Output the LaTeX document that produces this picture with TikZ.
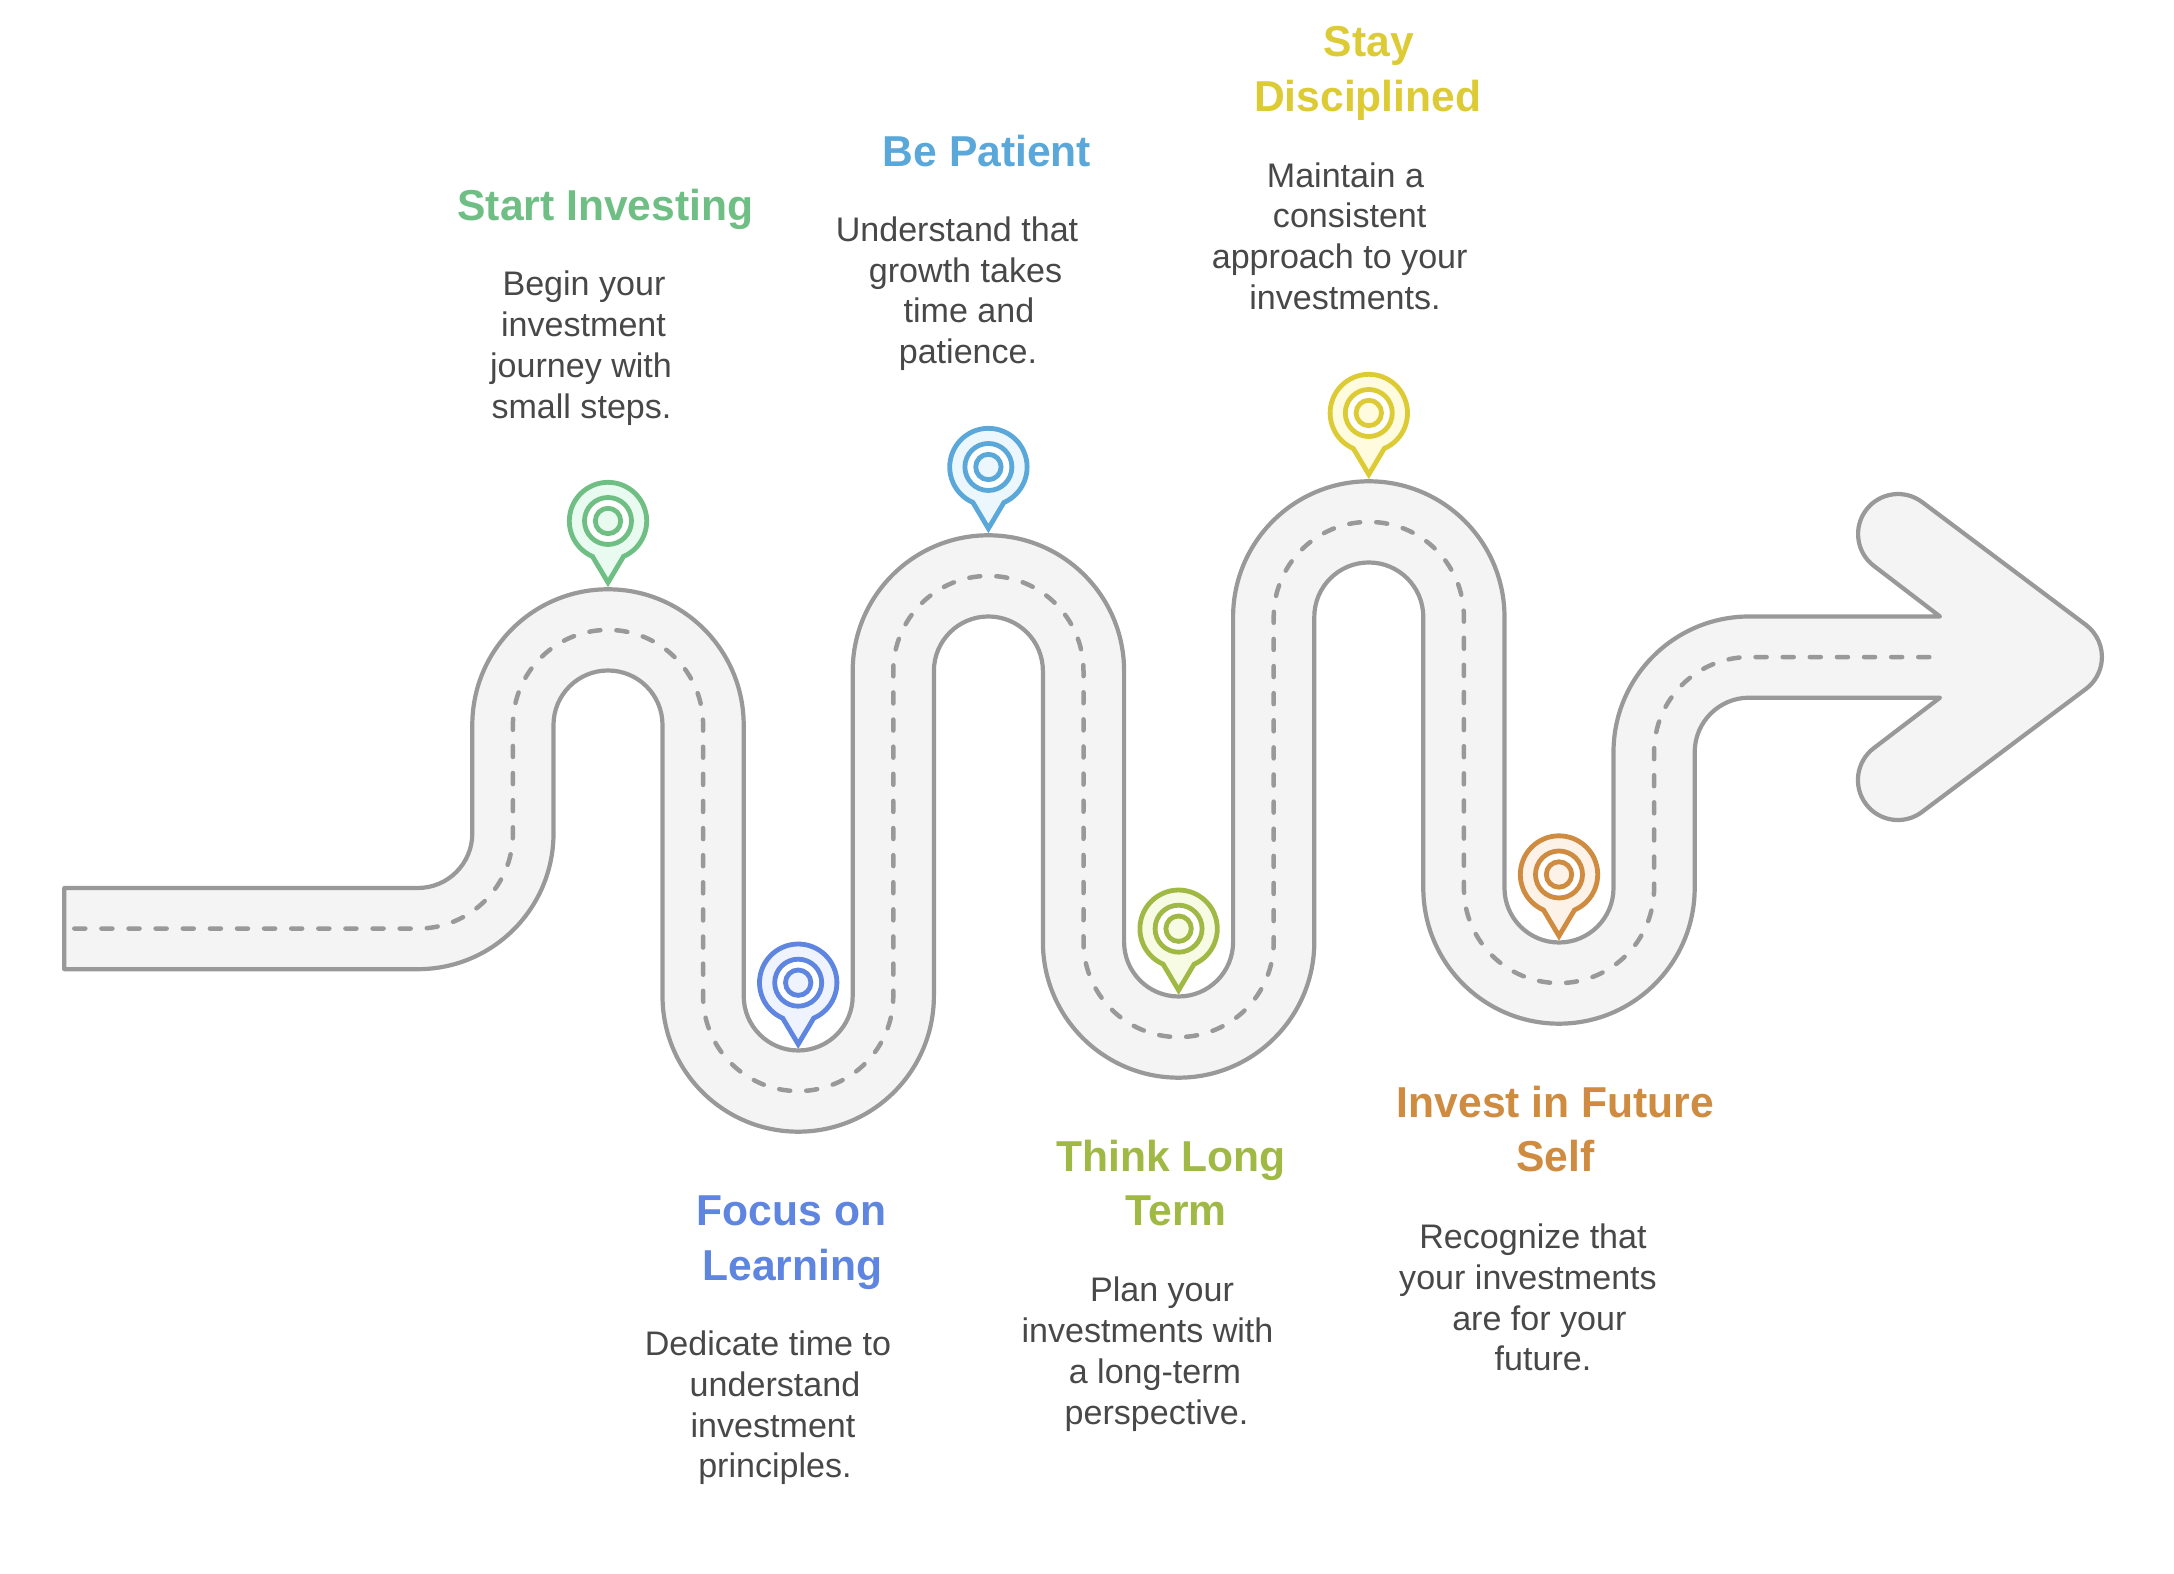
\documentclass[tikz,border=0pt]{standalone}
\usepackage{fontspec}
\setmainfont{Liberation Sans}
\newfontfamily\titlefont[FakeStretch=0.985]{Liberation Sans}
\definecolor{roadline}{HTML}{999999}
\definecolor{roadfill}{HTML}{F4F4F4}
\definecolor{bodygray}{HTML}{484848}
\definecolor{startcol}{HTML}{6FBF85}
\definecolor{startfill}{HTML}{E9FBF0}
\definecolor{focuscol}{HTML}{5E85E0}
\definecolor{focusfill}{HTML}{EEF3FE}
\definecolor{patientcol}{HTML}{5AA7D9}
\definecolor{patientfill}{HTML}{ECF6FD}
\definecolor{longcol}{HTML}{A0B944}
\definecolor{longfill}{HTML}{F8FBE4}
\definecolor{stayol}{HTML}{DDCB35}
\definecolor{stayfill}{HTML}{FEFBDF}
\definecolor{futurecol}{HTML}{CF8B3F}
\definecolor{futurefill}{HTML}{FCF2E7}
\tikzset{
  roadedge/.style={draw=roadline, fill=roadfill, line width=0.042cm, line join=round},
  roaddash/.style={draw=roadline, line width=0.045cm, line cap=round, dash pattern=on 0.11cm off 0.161cm},
  pinline/.style={line width=0.048cm},
  titletext/.style={anchor=base, font=\titlefont\bfseries\fontsize{12.3pt}{14pt}\selectfont},
  bodytext/.style={anchor=base, text=bodygray, font=\fontsize{9.69pt}{11pt}\selectfont}
}
\begin{document}
\begin{tikzpicture}[x=0.01cm, y=0.01cm, yscale=-1]
  \useasboundingbox (0,0) rectangle (2174,1574);
  \def\rin{54.5}
  \def\rout{135.7}
  \def\rmid{95.1}
  % road outline with arrow head
  \path[roadedge] (64.3,888) -- (417.8,888) arc[start angle=90, end angle=0, radius=\rin]
    -- (472.3,725) arc[start angle=180, end angle=360, radius=\rout]
    -- (743.7,996) arc[start angle=180, end angle=0, radius=\rin]
    -- (852.7,671) arc[start angle=180, end angle=360, radius=\rout]
    -- (1124.1,942) arc[start angle=180, end angle=0, radius=\rin]
    -- (1233.1,617) arc[start angle=180, end angle=360, radius=\rout]
    -- (1504.5,888) arc[start angle=180, end angle=0, radius=\rin]
    -- (1613.5,752.2) arc[start angle=180, end angle=270, radius=\rout]
    -- (1940,616.5) -- (1874,566) arc[start angle=127, end angle=307, radius=40]
    -- (2086,625) arc[start angle=307, end angle=413, radius=40]
    -- (1922,812) arc[start angle=53, end angle=233, radius=40]
    -- (1940,697.7) -- (1749.2,697.7) arc[start angle=270, end angle=180, radius=\rin]
    -- (1694.7,888) arc[start angle=0, end angle=180, radius=\rout]
    -- (1423.3,617) arc[start angle=0, end angle=-180, radius=\rin]
    -- (1314.3,942) arc[start angle=0, end angle=180, radius=\rout]
    -- (1042.9,671) arc[start angle=0, end angle=-180, radius=\rin]
    -- (933.9,996) arc[start angle=0, end angle=180, radius=\rout]
    -- (662.5,725) arc[start angle=0, end angle=-180, radius=\rin]
    -- (553.5,833.5) arc[start angle=0, end angle=90, radius=\rout]
    -- (64.3,969.2) -- cycle;
  % dashed centre line
  \draw[roaddash] (74.3,928.6) -- (417.8,928.6) arc[start angle=90, end angle=0, radius=\rmid]
    -- (512.9,725) arc[start angle=180, end angle=360, radius=\rmid]
    -- (703.1,996) arc[start angle=180, end angle=0, radius=\rmid]
    -- (893.3,671) arc[start angle=180, end angle=360, radius=\rmid]
    -- (1083.5,942) arc[start angle=180, end angle=0, radius=\rmid]
    -- (1273.7,617) arc[start angle=180, end angle=360, radius=\rmid]
    -- (1463.9,888) arc[start angle=180, end angle=0, radius=\rmid]
    -- (1654.1,752.2) arc[start angle=180, end angle=270, radius=\rmid]
    -- (1940.7,657.1);
  % pins
  \foreach \px/\py/\pincol/\pinfill in {608/521/startcol/startfill, 798.2/982.7/focuscol/focusfill,
      988.4/467/patientcol/patientfill, 1178.6/928.7/longcol/longfill,
      1368.8/413/stayol/stayfill, 1559/874.5/futurecol/futurefill} {
    \draw[pinline, draw=\pincol, fill=\pinfill] (\px+15.5,\py+35.5)
      arc[start angle=66.4, end angle=-246.4, radius=38.7] -- (\px,\py+61.5) -- cycle;
    \draw[pinline, draw=\pincol, fill=white] (\px,\py) circle(23.5);
    \draw[pinline, draw=\pincol, fill=\pinfill] (\px,\py) circle(12.7);
  }
  % titles
  \foreach \tx/\ty/\tcol/\ttl [count=\i] in {605.5/220.7/startcol/Start Investing, 987/166.7/patientcol/Be Patient,
      1368.7/57/stayol/Stay, 1367.7/111.7/stayol/Disciplined, 791.6/1225.3/focuscol/Focus on,
      792.3/1280.5/focuscol/Learning, 1171/1171.3/longcol/Think Long, 1176/1225.5/longcol/Term,
      1555.4/1117.3/futurecol/Invest in Future, 1555.4/1171.7/futurecol/Self} {
    \node[titletext, text=\tcol] (title\i) at (\tx,\ty) {\ttl};
  }
  % descriptions, one line at a time
  \foreach \tx/\ty/\ttl [count=\i] in {584/296/Begin your, 583.5/337/investment, 581/378/journey with, 581.5/419/small steps.,
      957/242/Understand that, 965.5/283/growth takes, 969/323/time and, 968/364/patience.,
      1345.5/187.7/Maintain a, 1349.7/228/consistent, 1339.7/268.5/approach to your, 1345/309.5/investments.,
      768/1355.7/Dedicate time to, 775/1396.7/understand, 773/1437.2/investment, 775/1477.7/principles.,
      1162/1301.7/Plan your, 1147.5/1342.7/investments with, 1155/1383.2/a long-term, 1156.5/1424.2/perspective.,
      1533/1248.2/Recognize that, 1528/1289.2/your investments, 1539.4/1330.2/are for your, 1543/1370.7/future.} {
    \node[bodytext] (line\i) at (\tx,\ty) {\ttl};
  }
\end{tikzpicture}
\end{document}
